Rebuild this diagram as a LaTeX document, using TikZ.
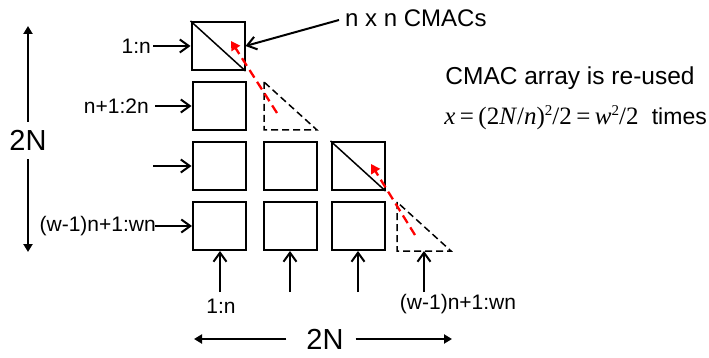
\documentclass[tikz,border=0pt]{standalone}
\usepackage{fontspec}
\setmainfont{Liberation Sans}
\newfontfamily\serifm{Liberation Serif}
\usetikzlibrary{arrows.meta}
\newcommand{\sqr}{\raisebox{0.36em}{\fontsize{15}{15}\selectfont 2}}
\newcommand{\gp}{\hspace{0.18em}}
\begin{document}
\begin{tikzpicture}[x=1pt,y=-1pt,
 cell/.style={draw, line width=2pt, minimum width=53pt, minimum height=48pt, inner sep=0pt},
 lab/.style={inner sep=0pt, font=\fontsize{21}{23}\selectfont},
 feed/.style={line width=2pt, -{Straight Barb[length=9pt,width=13pt,line width=2pt]}},
 dim/.style={line width=2pt, -{Triangle[length=8pt,width=9pt]}},
 tri/.style={dash pattern=on 7pt off 4pt, line width=1.5pt},
 redarr/.style={red, line width=2.3pt, dash pattern=on 9pt off 5pt, -{Triangle[length=9pt,width=10pt]}},
 big/.style={inner sep=0pt, font=\fontsize{29}{32}\selectfont}]
\useasboundingbox (0,0) rectangle (709,358);
% cells
\node[cell] (c11) at (218,46) {};
\node[cell] (c21) at (219,106) {};
\node[cell] (c31) at (219,166) {};
\node[cell] (c32) at (290,166) {};
\node[cell] (c33) at (358,166) {};
\node[cell] (c41) at (219.5,226) {};
\node[cell] (c42) at (290.5,226) {};
\node[cell] (c43) at (358.5,226) {};
\draw[line width=1.5pt] (c11.north west) -- (c11.south east);
\draw[line width=1.5pt] (c33.north west) -- (c33.south east);
% dashed triangles
\coordinate (t1a) at (264,82);
\coordinate (t1b) at (264,130);
\coordinate (t1c) at (317,130);
\draw[tri] (t1a) -- (t1b) -- (t1c) -- cycle;
\coordinate (t2a) at (397,202);
\coordinate (t2b) at (397,251);
\coordinate (t2c) at (451,251);
\draw[tri] (t2a) -- (t2b) -- (t2c) -- cycle;
% red arrows
\coordinate (r1s) at (277,113);
\coordinate (r1e) at (231,41);
\draw[redarr] (r1s) -- (r1e);
\coordinate (r2s) at (415,235);
\coordinate (r2e) at (371,164);
\draw[redarr] (r2s) -- (r2e);
% left inputs
\node[lab, anchor=east] (l1) at (151,46) {1:n};
\draw[feed] ([xshift=2pt]l1.east) -- (c11.west);
\node[lab, anchor=east] (l2) at (149,106) {n+1:2n};
\draw[feed] ([xshift=6pt]l2.east) -- (c21.west);
\coordinate (l3) at (153,166);
\draw[feed] (l3) -- (c31.west);
\node[lab, anchor=east] (l4) at (156,226) {(w-1)n+1:wn};
\draw[feed] ([xshift=-1pt]l4.east) -- (c41.west);
% CMACs label
\node[inner sep=0pt, anchor=west, font=\fontsize{24}{26}\selectfont] (cm) at (345,18) {n x n CMACs};
\draw[feed] ([xshift=-6pt,yshift=-2pt]cm.west) -- (c11.east);
% right text
\node[inner sep=0pt, font=\fontsize{24.5}{27}\selectfont] (ra) at (570,78) {CMAC array is re-used};
\node[inner sep=0pt, anchor=east] (eq) at (707,118) {\fontsize{25}{28}\selectfont{\serifm\itshape x}{\serifm\gp=\gp(2\textit{N}/\textit{n})\sqr/2\gp=\gp\textit{w}\sqr/2}\fontsize{23}{26}\selectfont\hspace{0.3em} times};
% bottom inputs
\node[lab] (b1) at (221,306) {1:n};
\node[lab] (b4) at (458,304) {(w-1)n+1:wn};
\coordinate (u1) at (220,292);
\coordinate (u2) at (290,292);
\coordinate (u3) at (358,292);
\coordinate (u4) at (424,292);
\draw[feed] (u1) -- (u1 |- c41.south);
\draw[feed] (u2) -- (u2 |- c42.south);
\draw[feed] (u3) -- (u3 |- c43.south);
\draw[feed] (u4) -- (u4 |- t2b);
% dimension arrows
\node[big] (v) at (28,140) {2N};
\coordinate (vt) at (28,26);
\coordinate (vb) at (28,252);
\draw[dim] ([yshift=8pt]v.north) -- (vt);
\draw[dim] ([yshift=-9pt]v.south) -- (vb);
\node[big] (h) at (325,339) {2N};
\coordinate (hl) at (194,339);
\coordinate (hr) at (452,339);
\draw[dim] ([xshift=-20pt]h.west) -- (hl);
\draw[dim] ([xshift=12pt]h.east) -- (hr);
\end{tikzpicture}
\end{document}
